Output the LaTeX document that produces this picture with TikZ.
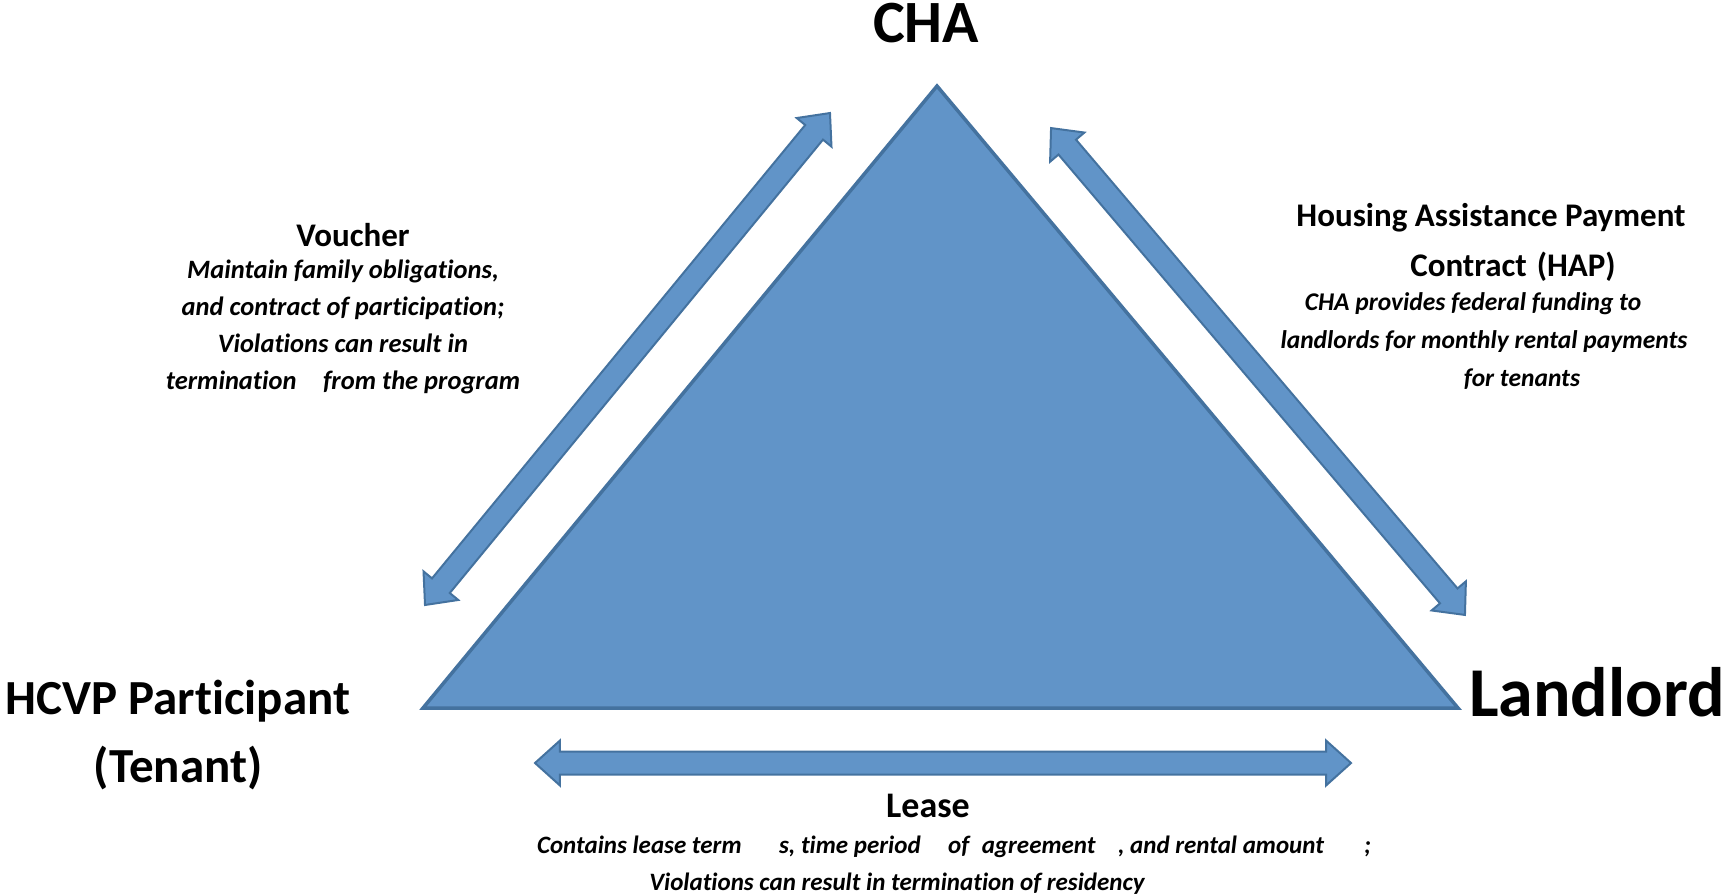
\documentclass[tikz,border=0pt]{standalone}
\usepackage{fontspec}
\setmainfont[Ligatures=NoCommon]{Carlito}
\usetikzlibrary{positioning,shapes.arrows,calc}
\definecolor{chafill}{HTML}{6194C8}
\definecolor{chaline}{HTML}{44729F}

\begin{document}
\begin{tikzpicture}[x=1pt,y=-1pt,
   node distance=12pt,
   party/.style={font=\fontsize{60}{66}\selectfont\bfseries,inner sep=0pt,align=center},
   head/.style={font=\fontsize{33}{50}\selectfont\bfseries,inner sep=0pt,align=center},
   desc/.style={font=\fontsize{25}{37}\selectfont\bfseries\itshape,inner sep=0pt,align=center},
   dblarrow/.style={double arrow,fill=chafill,draw=chaline,line width=2pt,
     inner xsep=0pt,inner ysep=10.5pt,double arrow head extend=11pt,
     double arrow tip angle=84,sloped}]
  \useasboundingbox (0,0) rectangle (1729,895);
  % triangle
  \coordinate (top) at (937,86);
  \coordinate (bl) at (423,708);
  \coordinate (br) at (1458,708);
  \filldraw[fill=chafill,draw=chaline,line width=3.5pt] (top) -- (bl) -- (br) -- cycle;
  % arrow ends
  \coordinate (vlo) at (425,605);
  \coordinate (vhi) at (830,113);
  \coordinate (hhi) at (1051,128);
  \coordinate (hlo) at (1465,615);
  \coordinate (lleft) at (535,763);
  \coordinate (lright) at (1351,763);
  \path let \p1=($(vhi)-(vlo)$) in
    (vlo) -- node[dblarrow,minimum height={veclen(\x1,\y1)}] (voucherarrow) {} (vhi);
  \path let \p1=($(hlo)-(hhi)$) in
    (hhi) -- node[dblarrow,minimum height={veclen(\x1,\y1)}] (haparrow) {} (hlo);
  \path let \p1=($(lright)-(lleft)$) in
    (lleft) -- node[dblarrow,minimum height={veclen(\x1,\y1)}] (leasearrow) {} (lright);
  % parties
  \node[party] (cha) at (926,23) {CHA};
  \node[party,font=\fontsize{49}{68}\selectfont\bfseries] (tenant) at (178,735) {HCVP Participant\\(Tenant)};
  \node[party,font=\fontsize{70}{76}\selectfont\bfseries] (landlord) at (1597,692) {Landlord};
  % labels
  \node[head] (voucher) at (353,235) {Voucher};
  \node[desc,font=\fontsize{26.5}{37}\selectfont\bfseries\itshape,below=13pt of voucher,xshift=-10pt] (voucherdesc) {Maintain family obligations,\\and contract of participation;\\Violations can result in\\termination\hspace{1em}from the program};
  \node[head] (hap) at (1491,242) {Housing Assistance Payment\\\hspace*{44pt}Contract\hspace{0.3em}(HAP)};
  \node[desc,font=\fontsize{25.5}{38}\selectfont\bfseries\itshape,below=11pt of hap,xshift=-7pt] (hapdesc) {CHA provides federal funding to\hspace*{22pt}\\landlords for monthly rental payments\\\hspace*{76pt}for tenants};
  \node[head,font=\fontsize{36}{40}\selectfont\bfseries] (lease) at (928,806) {Lease};
  \node[desc,below=18pt of lease,xshift=26pt] (leasedesc) {Contains lease term\hspace{1.5em}s, time period\hspace{1.1em}of\hspace{0.5em}agreement\hspace{0.9em}, and rental amount\hspace{1.6em};\\Violations can result in termination of residency\hspace*{114pt}};
\end{tikzpicture}
\end{document}
